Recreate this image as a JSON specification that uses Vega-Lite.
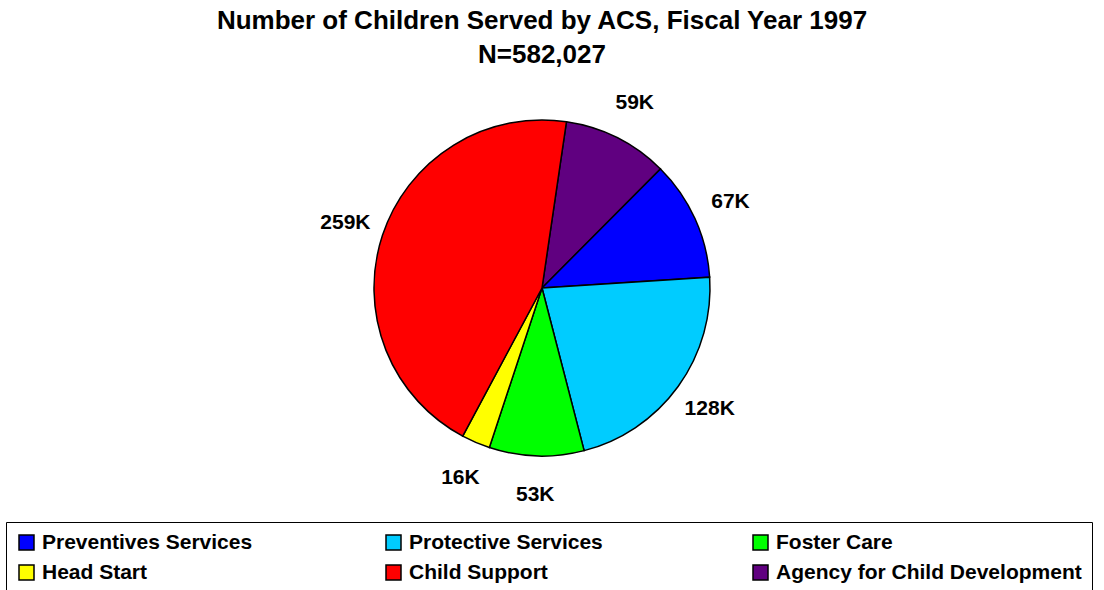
{
  "$schema": "https://vega.github.io/schema/vega-lite/v6.json",
  "width": 1084,
  "height": 416,
  "autosize": {"type": "none"},
  "padding": {"left": 0, "top": 80, "right": 20, "bottom": 94},
  "background": "white",
  "title": {
    "text": ["Number of Children Served by ACS, Fiscal Year 1997", "N=582,027"],
    "font": "Liberation Sans",
    "fontSize": 26,
    "fontWeight": "bold",
    "color": "black",
    "anchor": "middle",
    "frame": "group",
    "lineHeight": 34,
    "offset": 12
  },
  "data": {
    "values": [
      {"category": "Agency for Child Development", "children": 59, "label": "59K", "slice": 1},
      {"category": "Preventives Services", "children": 67, "label": "67K", "slice": 2},
      {"category": "Protective Services", "children": 128, "label": "128K", "slice": 3},
      {"category": "Foster Care", "children": 53, "label": "53K", "slice": 4},
      {"category": "Head Start", "children": 16, "label": "16K", "slice": 5},
      {"category": "Child Support", "children": 259, "label": "259K", "slice": 6}
    ]
  },
  "encoding": {
    "theta": {"field": "children", "type": "quantitative", "stack": true, "scale": {"range": [0.146, 6.4292]}},
    "order": {"field": "slice", "type": "quantitative"}
  },
  "layer": [
    {
      "mark": {"type": "arc", "radius": 168, "stroke": "black", "strokeWidth": 1.5},
      "encoding": {
        "color": {
          "field": "category",
          "type": "nominal",
          "sort": ["Preventives Services", "Protective Services", "Foster Care", "Head Start", "Child Support", "Agency for Child Development"],
          "scale": {
            "domain": ["Preventives Services", "Protective Services", "Foster Care", "Head Start", "Child Support", "Agency for Child Development"],
            "range": ["#0000FF", "#00CCFF", "#00FF00", "#FFFF00", "#FF0000", "#600080"]
          },
          "legend": {
            "orient": "none",
            "direction": "horizontal",
            "legendX": 6,
            "legendY": 442,
            "columns": 3,
            "gridAlign": "all",
            "columnPadding": 35,
            "rowPadding": 8,
            "padding": 10,
            "strokeColor": "black",
            "title": null,
            "symbolType": "square",
            "symbolSize": 225,
            "symbolStrokeColor": "black",
            "symbolStrokeWidth": 1.5,
            "symbolOpacity": 1,
            "labelFont": "Liberation Sans",
            "labelFontSize": 21,
            "labelFontWeight": "bold",
            "labelColor": "black",
            "labelOffset": 5,
            "labelLimit": 0
          }
        }
      }
    },
    {
      "mark": {"type": "text", "radius": 207, "font": "Liberation Sans", "fontSize": 21, "fontWeight": "bold", "color": "black"},
      "encoding": {
        "detail": {"field": "category", "type": "nominal"},
        "text": {"field": "label", "type": "nominal"}
      }
    }
  ],
  "config": {"view": {"stroke": null}}
}
